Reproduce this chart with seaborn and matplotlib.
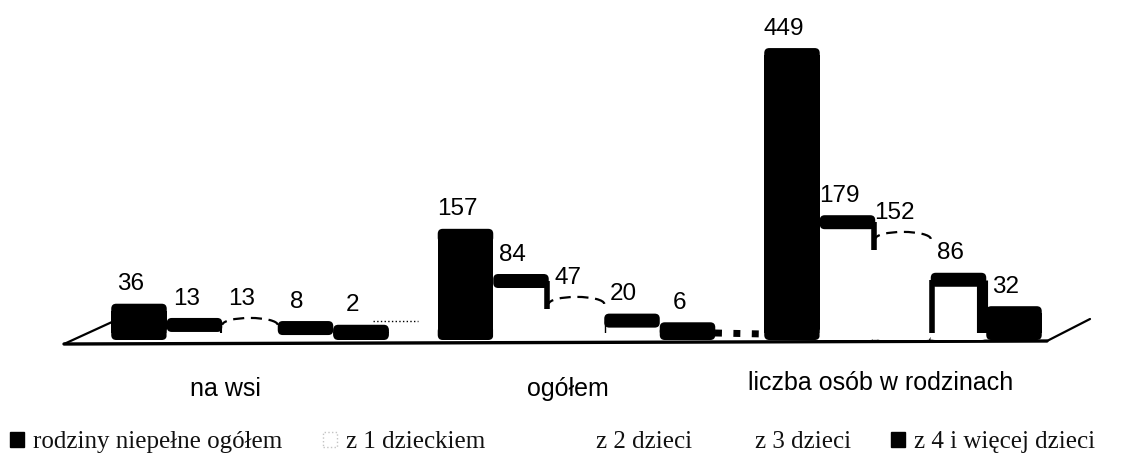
import numpy as np
import pandas as pd
import matplotlib
matplotlib.use("Agg")
import matplotlib.pyplot as plt
from matplotlib.patches import FancyBboxPatch, Arc, Patch
from matplotlib.transforms import ScaledTranslation
import seaborn as sns

categories = ["na wsi", "ogółem", "liczba osób w rodzinach"]
series_names = ["rodziny niepełne ogółem", "z 1 dzieckiem", "z 2 dzieci", "z 3 dzieci", "z 4 i więcej dzieci"]
ogolem_values = [36, 157, 449]
z1_values = [13, 84, 179]
z2_values = [13, 47, 152]
z3_values = [8, 20, 86]
z4_values = [2, 6, 32]
series_values = [ogolem_values, z1_values, z2_values, z3_values, z4_values]

body_colors = ["black", "white", "white", "white", "black"]
cap_colors = ["black", "black", None, "black", "black"]

W, H = 1139, 455
ZERO_PX = 333
PX_PER_UNIT = 0.619
PX_PER_GROUP = 326.5
CAP_PX = 14
ROUND_PX = 5

rows = [(c, s, v) for s, vals in zip(series_names, series_values) for c, v in zip(categories, vals)]
df = pd.DataFrame(rows, columns=["kategoria", "seria", "wartosc"])

sns.set_style("white")
plt.rcParams["font.family"] = ["Liberation Sans", "DejaVu Sans"]
fig = plt.figure(figsize=(W / 100, H / 100), dpi=100, facecolor="white")
ax = fig.add_axes([0, (H - ZERO_PX) / H, 1, ZERO_PX / H])
ax.patch.set_alpha(0)


def px(x, y):
    return x / W, 1 - y / H


# floor of the pseudo-3D plane
floor = [((64, 344), (1047, 341), 2.4, "-"), ((64, 344), (112, 322), 1.6, "-"),
         ((1047, 341), (1090, 319), 1.6, "-"), ((373, 321), (418, 321), 1.0, ":"),
         ((715, 333), (764, 334), 5, ":"), ((855, 338), (930, 338), 2, ":")]
for a, b, lw, ls in floor:
    fig.add_artist(plt.Line2D(*zip(px(*a), px(*b)), color="black", lw=lw, ls=ls, zorder=0))

sns.barplot(data=df, x="kategoria", y="wartosc", hue="seria", order=categories, hue_order=series_names,
            palette=body_colors, saturation=1, width=0.85, gap=0, legend=False, ax=ax, linewidth=0)

ax.set_xlim(-250 / PX_PER_GROUP, (W - 250) / PX_PER_GROUP)
ax.set_ylim(0, ZERO_PX / PX_PER_UNIT)
ax.set_xlabel("")
ax.set_ylabel("")
ax.set_yticks([])
ax.tick_params(axis="x", length=0, pad=0)
sns.despine(ax=ax, left=True, bottom=True, top=True, right=True)

cap_h = CAP_PX / PX_PER_UNIT
aspect = PX_PER_GROUP / PX_PER_UNIT


def band(x0, w, v, color, z):
    return FancyBboxPatch((x0, v - cap_h / 2), w, cap_h,
                          boxstyle=f"round,pad=0,rounding_size={ROUND_PX / PX_PER_GROUP}",
                          mutation_aspect=aspect, fc=color, ec="none", zorder=z, clip_on=False)


for s_i, cont in enumerate(ax.containers):
    for c_i, bar in enumerate(cont.patches):
        x0, w, v = bar.get_x(), bar.get_width(), bar.get_height()
        xc = x0 + w / 2
        val = int(round(v))
        ax.add_patch(band(x0, w, 0, body_colors[s_i], 1.5))
        if cap_colors[s_i]:
            ax.add_patch(band(x0, w, v, cap_colors[s_i], 3))
        else:
            ax.add_patch(Arc((xc, v), w, cap_h, theta1=25, theta2=155, color="black", lw=1.6,
                             ls=(0, (5, 3)), zorder=3, clip_on=False))
        if s_i == 1:
            ax.vlines(x0 + w - 0.004, max(v - 45, 0), v, color="black", lw=[1.5, 4, 4][c_i], zorder=2)
        if s_i == 3:
            ax.vlines(x0 + 0.003, 0, v, color="black", lw=[0, 1, 4][c_i], zorder=2)
            if c_i == 2:
                ax.vlines(x0 + w - 0.014, 0, v, color="black", lw=8, zorder=2)
        ax.annotate(str(val), xy=(xc, v), xytext=(-6, 19), textcoords="offset points",
                    ha="center", va="center", fontsize=17.5, color="black", zorder=5, annotation_clip=False)

# category labels: real tick labels nudged to their printed place
nudges = [(-25, -44), (-9, -44), (-22, -38)]
for lab, (dx, dy) in zip(ax.get_xticklabels(), nudges):
    lab.set_fontsize(18)
    lab.set_color("black")
    lab.set_transform(lab.get_transform() + ScaledTranslation(dx / 100, dy / 100, fig.dpi_scale_trans))

# one legend per entry, because the entries are unevenly spaced
legend_x = [10, 323, 573, 732, 891]
handles = [Patch(fc="black", ec="black"),
           Patch(fc="white", ec="#c4c4c4", ls=":"),
           Patch(fc="white", ec="white"),
           Patch(fc="white", ec="white"),
           Patch(fc="black", ec="black")]
for name, h, xp in zip(series_names, handles, legend_x):
    fig.legend([h], [name], loc="center left", bbox_to_anchor=(xp / W, 1 - 442 / H), frameon=False,
               prop={"family": "Liberation Serif", "size": 18}, handlelength=0.56, handleheight=0.56,
               handletextpad=0.36, borderpad=0, borderaxespad=0, labelcolor="#111111")

fig.savefig("out.png", dpi=100, facecolor="white")
